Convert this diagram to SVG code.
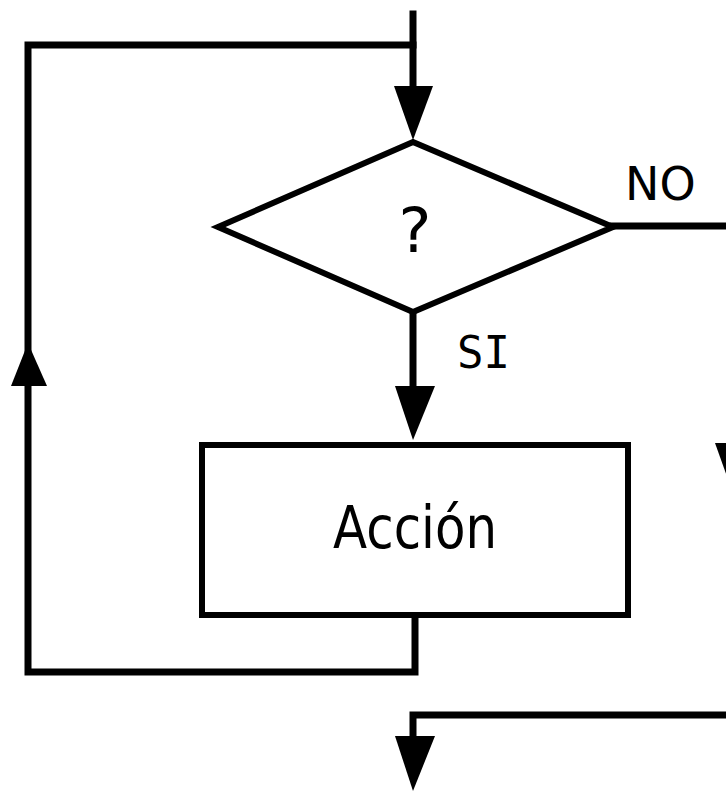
<svg xmlns="http://www.w3.org/2000/svg" width="726" height="797" viewBox="0 0 726 797">
<style>
.ln{fill:none;stroke:#000;stroke-width:7;stroke-linecap:square}
.shape{fill:#fff;stroke:#000}
.ah{fill:#000}
.t{font-family:"DejaVu Sans",Verdana,sans-serif;fill:#000}
</style>
<rect width="726" height="797" fill="#fff"/>
<g id="connectors">
<polyline class="ln" points="413,14 413,88"/>
<polyline class="ln" points="413,45 28,45 28,672 415,672 415,618"/>
<polyline class="ln" points="413,312 413,388"/>
<polyline class="ln" points="613,226 734,226 734,715 413,715 413,738"/>
<polygon class="ah" points="394,86 433,86 413,140"/>
<polygon class="ah" points="11,386 47,386 28,343"/>
<polygon class="ah" points="395,386 435,386 413,440"/>
<polygon class="ah" points="395,736 435,736 413,791"/>
<polygon class="ah" points="715,443 753,443 734,496"/>
<text class="t" x="625" y="200" font-size="46">NO</text>
<text x="457" y="368" font-size="44" font-family="DejaVu Sans Mono,monospace" fill="#000">SI</text>
</g>
<g id="decision">
<polygon class="shape" stroke-width="6" points="413,142 613,227 413,312 218,227"/>
<text class="t" x="415" y="252" font-size="62" text-anchor="middle">?</text>
</g>
<g id="action">
<rect class="shape" stroke-width="6" x="202" y="445" width="426" height="170"/>
<text class="t" x="415" y="548" font-size="58" text-anchor="middle" textLength="164" lengthAdjust="spacingAndGlyphs">Acción</text>
</g>
</svg>
